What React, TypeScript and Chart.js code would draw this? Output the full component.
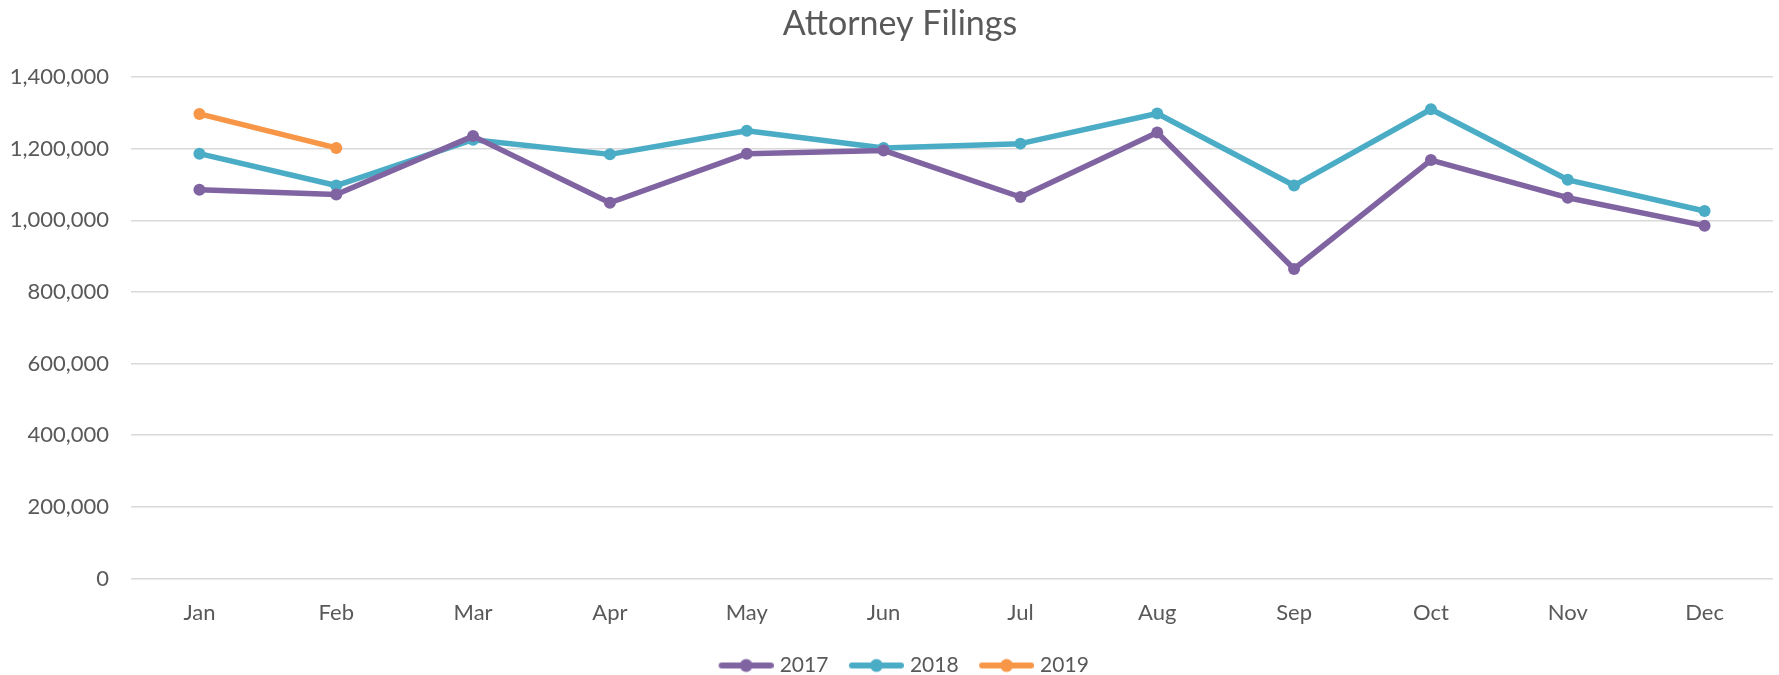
import React, { useEffect, useRef } from "react";
import { Chart, registerables } from "chart.js";

Chart.register(...registerables);

const chartTitle = "Attorney Filings";
const months = ["Jan", "Feb", "Mar", "Apr", "May", "Jun", "Jul", "Aug", "Sep", "Oct", "Nov", "Dec"];
const filings2017 = [1085000, 1072000, 1235000, 1049000, 1186000, 1195000, 1065000, 1245000, 864000, 1168000, 1063000, 985000];
const filings2018 = [1186000, 1097000, 1225000, 1184000, 1250000, 1202000, 1214000, 1298000, 1097000, 1310000, 1113000, 1026000];
const filings2019 = [1297000, 1202000, null, null, null, null, null, null, null, null, null, null];
const yTicks = [0, 200000, 400000, 600000, 800000, 1000000, 1200000, 1400000];

const COLORS = { c2017: "#8064A2", c2018: "#4BACC6", c2019: "#F79646" };
const TEXT = "#595959";
const FONT = "Lato, 'Open Sans', sans-serif";

const ICON_BOX = 51;
const ICON_CANVAS = 60;

function legendIcon(color: string) {
  const c = document.createElement("canvas");
  c.width = ICON_CANVAS;
  c.height = 16;
  const ctx = c.getContext("2d")!;
  ctx.strokeStyle = color;
  ctx.lineWidth = 6;
  ctx.lineCap = "round";
  const x0 = ICON_CANVAS - 55;
  ctx.beginPath();
  ctx.moveTo(x0 + 3, 8);
  ctx.lineTo(ICON_CANVAS - 3, 8);
  ctx.stroke();
  ctx.fillStyle = color;
  ctx.beginPath();
  ctx.arc(x0 + 27.5, 8, 6.5, 0, Math.PI * 2);
  ctx.fill();
  return c;
}

const titlePlugin = {
  id: "excelTitle",
  afterLayout(chart: any) {
    if (chart.legend) {
      chart.legend.left += 16;
      chart.legend.right += 16;
    }
  },
  afterDraw(chart: any) {
    const ctx = chart.ctx;
    ctx.save();
    ctx.fillStyle = TEXT;
    ctx.font = `normal 34px ${FONT}`;
    ctx.textAlign = "center";
    ctx.textBaseline = "middle";
    ctx.fillText(chartTitle, 900, 24);
    ctx.restore();
  },
};

export default function App() {
  const ref = useRef<HTMLCanvasElement | null>(null);
  useEffect(() => {
    document.body.style.margin = "0";
    const series = [
      { label: "2017", data: filings2017, color: COLORS.c2017 },
      { label: "2018", data: filings2018, color: COLORS.c2018 },
      { label: "2019", data: filings2019, color: COLORS.c2019 },
    ];
    const chart = new Chart(ref.current!, {
      type: "line",
      plugins: [titlePlugin],
      data: {
        labels: months,
        datasets: series.map((s) => ({
          label: s.label,
          data: s.data,
          borderColor: s.color,
          backgroundColor: s.color,
          borderWidth: 5.5,
          pointRadius: 6,
          pointBorderWidth: 0,
          pointBackgroundColor: s.color,
          borderCapStyle: "round",
          borderJoinStyle: "round",
          spanGaps: false,
          tension: 0,
        })),
      },
      options: {
        responsive: false,
        animation: false,
        layout: { padding: { left: 0, right: 4, top: 77, bottom: -11 } },
        plugins: {
          tooltip: { enabled: false },
          title: { display: false },
          legend: {
            position: "bottom",
            labels: {
              color: TEXT,
              font: { family: FONT, size: 21 },
              usePointStyle: true,
              pointStyleWidth: ICON_BOX,
              padding: 20,
              generateLabels: (ch: any) =>
                ch.data.datasets.map((d: any, i: number) => ({
                  text: d.label,
                  fillStyle: d.borderColor,
                  strokeStyle: d.borderColor,
                  lineWidth: 0,
                  pointStyle: legendIcon(d.borderColor),
                  datasetIndex: i,
                  hidden: false,
                  fontColor: TEXT,
                })),
            },
          },
        },
        scales: {
          x: {
            offset: true,
            grid: { display: false, drawTicks: false },
            border: { display: false },
            ticks: { color: TEXT, font: { family: FONT, size: 22 }, padding: 21 },
            afterFit: (s: any) => {
              s.height = 56.5;
            },
          },
          y: {
            min: 0,
            max: 1400000,
            afterBuildTicks: (s: any) => {
              s.ticks = yTicks.map((v) => ({ value: v }));
            },
            grid: { color: "#D9D9D9", lineWidth: 1.5, drawTicks: false },
            border: { display: false },
            ticks: {
              color: TEXT,
              font: { family: FONT, size: 22 },
              padding: 22,
              callback: (v: any) => Number(v).toLocaleString("en-US"),
            },
            afterFit: (s: any) => {
              s.width = 131;
            },
          },
        },
      },
    });
    return () => chart.destroy();
  }, []);
  return (
    <div style={{ width: 1779, height: 675, background: "#fff" }}>
      <canvas ref={ref} width={1779} height={675} style={{ display: "block" }} />
    </div>
  );
}
